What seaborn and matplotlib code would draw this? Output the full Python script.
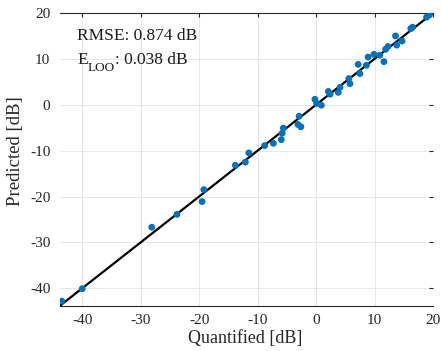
import numpy as np
import pandas as pd
import matplotlib
matplotlib.use("Agg")
import matplotlib.pyplot as plt
import seaborn as sns
from matplotlib.transforms import offset_copy

quantified = [-43.5, -40.0, -28.1, -23.8, -19.2, -19.5, -13.8, -12.1, -11.5, -8.8,
              -7.3, -5.95, -5.8, -5.6, -2.9, -3.1, -2.6, -0.2, 0.1, 0.9,
              2.1, 2.4, 3.8, 4.1, 5.6, 5.8, 7.2, 7.5, 8.6, 8.9,
              9.9, 10.9, 11.6, 11.9, 12.3, 13.6, 13.8, 14.7, 16.2, 16.5,
              18.9, 19.4]
predicted = [-42.8, -40.1, -26.7, -23.9, -18.5, -21.1, -13.2, -12.5, -10.5, -8.9,
             -8.4, -7.6, -6.2, -5.1, -2.5, -4.3, -4.8, 1.2, 0.3, -0.1,
             2.9, 2.3, 2.7, 3.8, 5.7, 4.6, 8.8, 6.8, 8.6, 10.4,
             11.0, 10.8, 9.4, 12.1, 12.7, 15.0, 13.0, 13.9, 16.6, 16.9,
             19.1, 19.6]
x_ticks = [-40, -30, -20, -10, 0, 10, 20]
y_ticks = [-40, -30, -20, -10, 0, 10, 20]
line_ends = [-43.8, 20]
rmse_text = "RMSE: 0.874 dB"
eloo_main = "E"
eloo_sub = "LOO"
eloo_rest = ": 0.038 dB"

sns.set_style("white")
plt.rcParams['font.family'] = ['Liberation Serif', 'DejaVu Serif']
plt.rcParams['axes.unicode_minus'] = False

fig = plt.figure(figsize=(4.42, 3.51), dpi=100)
ax = fig.add_axes([60/442, 1-305.7/351, (433-60)/442, (305.7-13)/351])

df = pd.DataFrame({"Quantified": quantified, "Predicted": predicted})
line_df = pd.DataFrame({"x": line_ends, "y": line_ends})

sns.lineplot(data=line_df, x="x", y="y", color="black", linewidth=1.6, ax=ax, zorder=2)
sns.scatterplot(data=df, x="Quantified", y="Predicted", color="#0072BD", s=24,
                edgecolor="none", linewidth=0, ax=ax, zorder=3)

ax.set_xlim(-43.8, 20)
ax.set_ylim(-43.8, 20)
ax.set_xticks(x_ticks)
ax.set_yticks(y_ticks)
ax.grid(True, color="#e3e3e3", linewidth=0.6)
ax.set_axisbelow(True)
ax.tick_params(direction="in", length=3, width=0.8, top=True, right=True,
               labelsize=11, colors="#262626")
ax.tick_params(axis="x", pad=6)
ax.tick_params(axis="y", pad=7)
for s in ["left", "right"]:
    ax.spines[s].set_visible(False)
for s in ["top", "bottom"]:
    ax.spines[s].set_color("#262626")
    ax.spines[s].set_linewidth(0.8)

ax.set_xlabel("Quantified [dB]", fontsize=13)
ax.set_ylabel("Predicted [dB]", fontsize=13.5)
ax.xaxis.set_label_coords(0.497, -0.083)
ax.yaxis.set_label_coords(-0.097, 0.528)

tc = "#1a1a1a"
ax.text(-40.9, 14.1, rmse_text, fontsize=12.5, ha="left", va="baseline", color=tc)

# E_LOO line built from pieces so the subscript sits lower and larger
fig.canvas.draw()
renderer = fig.canvas.get_renderer()
t1 = ax.text(-40.9, 8.9, eloo_main, fontsize=12.5, ha="left", va="baseline", color=tc)
w1 = t1.get_window_extent(renderer).width * 72 / fig.dpi
tr2 = offset_copy(ax.transData, fig=fig, x=w1, y=-5.0, units="points")
t2 = ax.text(-40.9, 8.9, eloo_sub, fontsize=9.5, ha="left", va="baseline", color=tc,
             transform=tr2)
w2 = t2.get_window_extent(renderer).width * 72 / fig.dpi
tr3 = offset_copy(ax.transData, fig=fig, x=w1 + w2, y=0, units="points")
ax.text(-40.9, 8.9, eloo_rest, fontsize=12.5, ha="left", va="baseline", color=tc,
        transform=tr3)

fig.savefig("out.png", dpi=100)
